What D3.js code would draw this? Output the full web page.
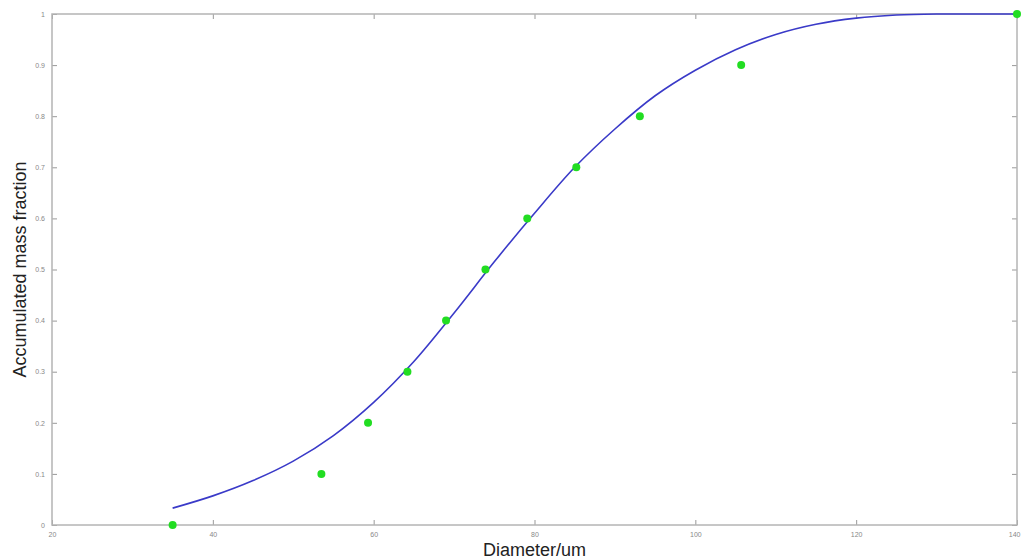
<!DOCTYPE html>
<html><head><meta charset="utf-8">
<script src="https://cdn.jsdelivr.net/npm/d3@7"></script>
<style>body{margin:0;background:#fff;}svg{display:block;}</style>
</head><body>
<svg id="c" width="1021" height="560"></svg>
<script>
const xTicks = [20, 40, 60, 80, 100, 120, 140];
const yTicks = [0, 0.1, 0.2, 0.3, 0.4, 0.5, 0.6, 0.7, 0.8, 0.9, 1];
const pointX = [35, 53.5, 59.3, 64.2, 69, 73.9, 79.1, 85.2, 93.1, 105.7, 140];
const pointY = [0, 0.1, 0.2, 0.3, 0.4, 0.5, 0.6, 0.7, 0.8, 0.9, 1];
const curveX = [35, 40, 45, 50, 55, 60, 65, 70, 75, 80, 85, 90, 95, 100, 105, 110, 115, 120, 125, 130, 135, 140];
const curveY = [0.033, 0.057, 0.087, 0.125, 0.175, 0.24, 0.32, 0.415, 0.515, 0.61, 0.70, 0.775, 0.84, 0.89, 0.93, 0.96, 0.98, 0.992, 0.998, 1.0, 1.0, 1.0];

const svg = d3.select('#c');
const L = 52, R = 1017, T = 14, B = 525;
const x = d3.scaleLinear().domain([20, 140]).range([L, R]);
const y = d3.scaleLinear().domain([0, 1]).range([B, T]);
const axisCol = '#b4b4b4';

function styleAxis(g) {
  g.select('.domain').remove();
  g.selectAll('line').attr('stroke', '#999').attr('stroke-width', 1);
  g.selectAll('text').attr('fill', '#888').attr('font-size', 7).attr('font-family', 'Liberation Sans, Arial, sans-serif');
}
// bottom axis with inward ticks
const bx = svg.append('g').attr('transform', `translate(0,${B})`)
  .call(d3.axisBottom(x).tickValues(xTicks).tickSize(-5).tickPadding(7).tickFormat(d3.format('d')))
  .call(styleAxis);
bx.selectAll('text').filter(d => d === 140).attr('text-anchor', 'end').attr('dx', 3);
// top ticks
svg.append('g').attr('transform', `translate(0,${T})`)
  .call(d3.axisTop(x).tickValues(xTicks).tickSize(-5).tickFormat(''))
  .call(styleAxis);
// left axis
svg.append('g').attr('transform', `translate(${L},0)`)
  .call(d3.axisLeft(y).tickValues(yTicks).tickSize(-5).tickPadding(7).tickFormat(d => d === 0 ? '0' : d === 1 ? '1' : d3.format('.1f')(d)))
  .call(styleAxis);
// right ticks
svg.append('g').attr('transform', `translate(${R},0)`)
  .call(d3.axisRight(y).tickValues(yTicks).tickSize(-5).tickFormat(''))
  .call(styleAxis);

// frame
svg.append('rect').attr('x', L).attr('y', T).attr('width', R - L).attr('height', B - T)
  .attr('fill', 'none').attr('stroke', axisCol).attr('stroke-width', 1.5);

// curve
const curve = curveX.map((v, i) => [v, curveY[i]]);
svg.append('path').datum(curve)
  .attr('d', d3.line().x(d => x(d[0])).y(d => y(d[1])).curve(d3.curveCatmullRom))
  .attr('fill', 'none').attr('stroke', '#3a3ac8').attr('stroke-width', 1.6);

// points
svg.append('g').selectAll('circle').data(pointX.map((v, i) => [v, pointY[i]])).join('circle')
  .attr('cx', d => x(d[0])).attr('cy', d => y(d[1])).attr('r', 4).attr('fill', '#22dd22');

// labels
svg.append('text').attr('x', (L + R) / 2).attr('y', 556).attr('text-anchor', 'middle')
  .attr('font-family', 'Liberation Sans, Arial, sans-serif').attr('font-size', 18).attr('fill', '#222')
  .text('Diameter/um');
svg.append('text').attr('transform', `translate(26,${(T + B) / 2}) rotate(-90)`).attr('text-anchor', 'middle')
  .attr('font-family', 'Liberation Sans, Arial, sans-serif').attr('font-size', 18).attr('fill', '#222')
  .text('Accumulated mass fraction');
</script>
</body></html>
